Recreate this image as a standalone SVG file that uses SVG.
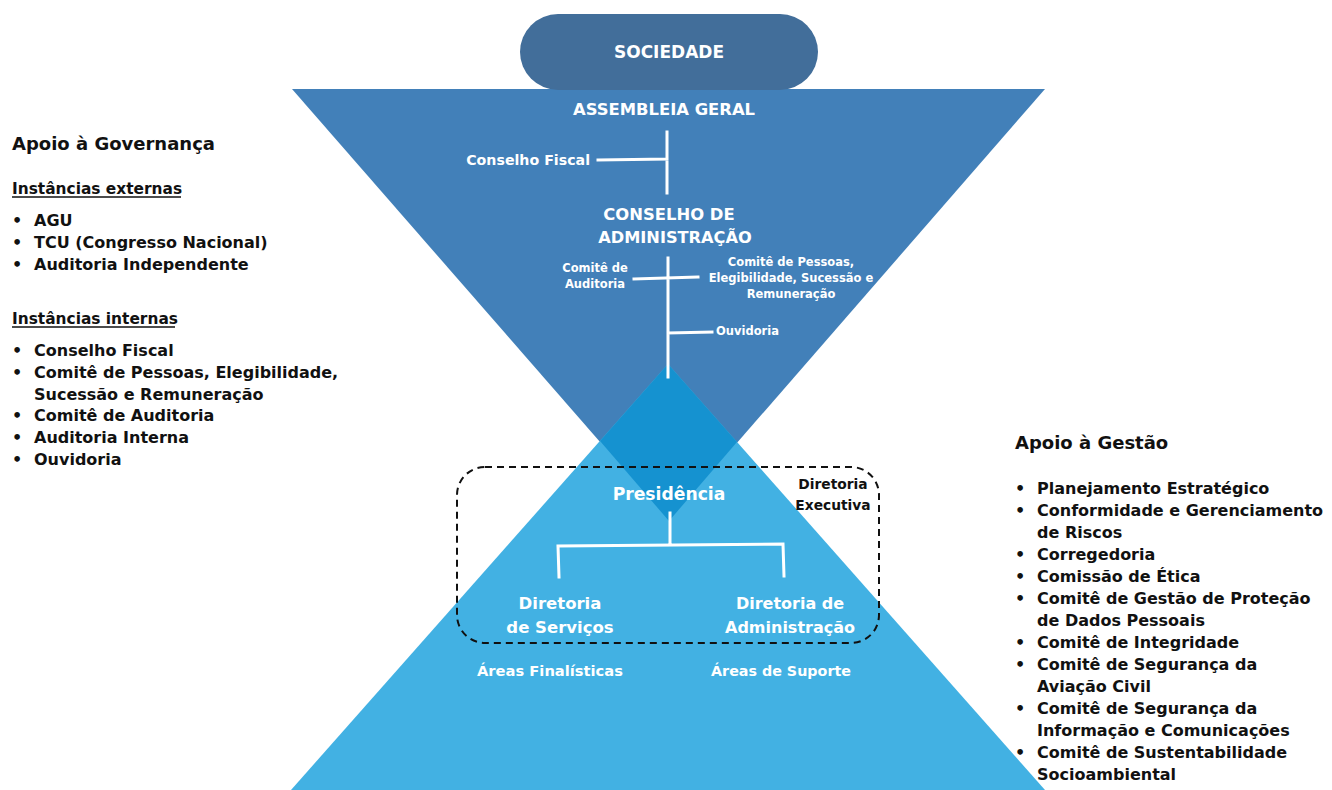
<svg xmlns="http://www.w3.org/2000/svg" width="1332" height="790" viewBox="0 0 1332 790">
<style>
text{font-family:"DejaVu Sans","Liberation Sans",sans-serif;font-weight:bold}
.w{fill:#ffffff}
.k{fill:#111111}
.c{text-anchor:middle}
.list{font-size:16px}
.ln{stroke:#ffffff;stroke-width:3;fill:none;stroke-linecap:square}
</style>
<rect width="1332" height="790" fill="#ffffff"/>
<g id="shapes">
<polygon points="292,89 1045,89 669,521" fill="#4280B9"/>
<polygon points="668,364 1045,790 291,790" fill="#42B1E3"/>
<polygon points="668,364 737,442 669,521 600,441" fill="#1592D0"/>
</g>
<g id="sociedade">
<rect x="520" y="14" width="298" height="76" rx="38" fill="#426E9A"/>
<text x="669" y="58" class="w c" font-size="17">SOCIEDADE</text>
</g>
<g id="connectors">
<path class="ln" d="M667,132 L667,193 M598,160 L667,159"/>
<path class="ln" d="M668,258 L668,377 M634,279 L698,277 M668,333 L712,332"/>
<path class="ln" d="M670,513 L670,544 M559,577 L558,546 L783,544 L784,576"/>
</g>
<g id="assembleia">
<text x="664" y="115" class="w c" font-size="16.4">ASSEMBLEIA GERAL</text>
</g>
<g id="conselho-fiscal">
<text x="590" y="165" class="w" font-size="14.2" text-anchor="end">Conselho Fiscal</text>
</g>
<g id="conselho-admin">
<text x="669" y="220" class="w c" font-size="16.4">CONSELHO DE</text>
<text x="675" y="243" class="w c" font-size="16.2">ADMINISTRAÇÃO</text>
</g>
<g id="comite-auditoria">
<text x="595" y="272" class="w c" font-size="11.5">Comitê de</text>
<text x="595" y="288" class="w c" font-size="11.5">Auditoria</text>
</g>
<g id="comite-pessoas">
<text x="791" y="266" class="w c" font-size="11.5">Comitê de Pessoas,</text>
<text x="791" y="282" class="w c" font-size="11.5">Elegibilidade, Sucessão e</text>
<text x="791" y="298" class="w c" font-size="11.5">Remuneração</text>
</g>
<g id="ouvidoria">
<text x="716" y="335" class="w" font-size="11.5">Ouvidoria</text>
</g>
<g id="diretoria-executiva">
<rect x="457" y="467" width="422" height="176" rx="28" fill="none" stroke="#111111" stroke-width="2" stroke-dasharray="7,5"/>
<text x="833" y="489" class="k c" font-size="13.8">Diretoria</text>
<text x="833" y="510" class="k c" font-size="13.8">Executiva</text>
</g>
<g id="presidencia">
<text x="669" y="500" class="w c" font-size="17.2">Presidência</text>
</g>
<g id="diretoria-servicos">
<text x="560" y="609" class="w c" font-size="16.5">Diretoria</text>
<text x="560" y="633" class="w c" font-size="16.5">de Serviços</text>
</g>
<g id="diretoria-admin">
<text x="790" y="609" class="w c" font-size="16">Diretoria de</text>
<text x="790" y="633" class="w c" font-size="16">Administração</text>
</g>
<g id="areas-finalisticas">
<text x="550" y="676" class="w c" font-size="14.7">Áreas Finalísticas</text>
</g>
<g id="areas-suporte">
<text x="781" y="676" class="w c" font-size="14.3">Áreas de Suporte</text>
</g>
<g id="apoio-governanca">
<text x="12" y="150" class="k" font-size="18">Apoio à Governança</text>
<text x="12" y="194" class="k" font-size="15.4">Instâncias externas</text>
<line x1="12" y1="197" x2="181" y2="197" stroke="#111111" stroke-width="1.3"/>
<g class="list k">
<text x="12" y="226">•</text><text x="34" y="226">AGU</text>
<text x="12" y="248">•</text><text x="34" y="248">TCU (Congresso Nacional)</text>
<text x="12" y="270">•</text><text x="34" y="270">Auditoria Independente</text>
</g>
<text x="12" y="324" class="k" font-size="15.4">Instâncias internas</text>
<line x1="12" y1="327" x2="175" y2="327" stroke="#111111" stroke-width="1.3"/>
<g class="list k">
<text x="12" y="356">•</text><text x="34" y="356">Conselho Fiscal</text>
<text x="12" y="378">•</text><text x="34" y="378">Comitê de Pessoas, Elegibilidade,</text>
<text x="34" y="400">Sucessão e Remuneração</text>
<text x="12" y="421">•</text><text x="34" y="421">Comitê de Auditoria</text>
<text x="12" y="443">•</text><text x="34" y="443">Auditoria Interna</text>
<text x="12" y="465">•</text><text x="34" y="465">Ouvidoria</text>
</g>
</g>
<g id="apoio-gestao">
<text x="1015" y="449" class="k" font-size="18">Apoio à Gestão</text>
<g class="list k">
<text x="1015" y="494">•</text><text x="1037" y="494">Planejamento Estratégico</text>
<text x="1015" y="516">•</text><text x="1037" y="516">Conformidade e Gerenciamento</text>
<text x="1037" y="538">de Riscos</text>
<text x="1015" y="560">•</text><text x="1037" y="560">Corregedoria</text>
<text x="1015" y="582">•</text><text x="1037" y="582">Comissão de Ética</text>
<text x="1015" y="604">•</text><text x="1037" y="604">Comitê de Gestão de Proteção</text>
<text x="1037" y="626">de Dados Pessoais</text>
<text x="1015" y="648">•</text><text x="1037" y="648">Comitê de Integridade</text>
<text x="1015" y="670">•</text><text x="1037" y="670">Comitê de Segurança da</text>
<text x="1037" y="692">Aviação Civil</text>
<text x="1015" y="714">•</text><text x="1037" y="714">Comitê de Segurança da</text>
<text x="1037" y="736">Informação e Comunicações</text>
<text x="1015" y="758">•</text><text x="1037" y="758">Comitê de Sustentabilidade</text>
<text x="1037" y="780">Socioambiental</text>
</g>
</g>
</svg>
